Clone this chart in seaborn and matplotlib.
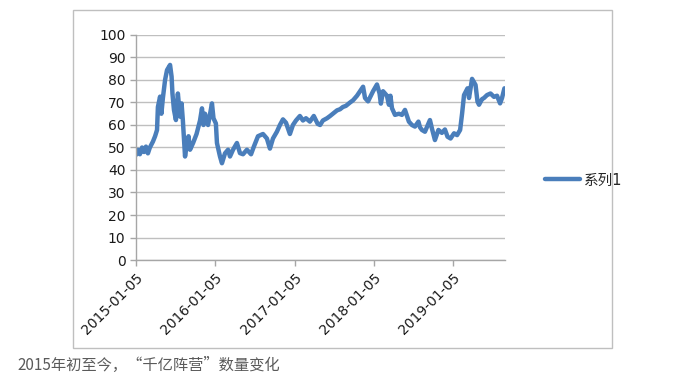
import matplotlib
matplotlib.use('Agg')

import seaborn as sns
import pandas
import matplotlib.pyplot as plt
import matplotlib.dates as mdates
from matplotlib.patches import Rectangle

# values
dates = [
    '2015-01-05', '2015-01-14', '2015-01-23', '2015-02-02', '2015-02-11', '2015-02-20',
    '2015-03-01', '2015-03-10', '2015-03-24', '2015-04-03', '2015-04-12', '2015-04-16',
    '2015-04-26', '2015-05-02', '2015-05-09', '2015-05-19', '2015-05-28', '2015-06-11',
    '2015-06-18', '2015-06-22', '2015-06-29', '2015-07-08', '2015-07-17', '2015-07-27',
    '2015-08-03', '2015-08-09', '2015-08-19', '2015-08-28', '2015-09-04', '2015-09-11',
    '2015-09-25', '2015-10-11', '2015-10-27', '2015-11-05', '2015-11-12', '2015-11-19',
    '2015-12-03', '2015-12-21', '2015-12-28', '2016-01-08', '2016-01-13', '2016-01-27',
    '2016-02-05', '2016-02-19', '2016-03-04', '2016-03-13', '2016-03-27', '2016-04-14',
    '2016-04-28', '2016-05-12', '2016-05-30', '2016-06-18', '2016-07-01', '2016-07-20',
    '2016-08-12', '2016-08-30', '2016-09-13', '2016-09-27', '2016-10-15', '2016-10-29',
    '2016-11-12', '2016-11-26', '2016-12-14', '2016-12-28', '2017-01-11', '2017-01-29',
    '2017-02-12', '2017-02-26', '2017-03-16', '2017-04-03', '2017-04-21', '2017-05-02',
    '2017-05-15', '2017-06-03', '2017-06-17', '2017-06-30', '2017-07-19', '2017-08-02',
    '2017-08-15', '2017-08-29', '2017-09-17', '2017-10-01', '2017-10-19', '2017-11-02',
    '2017-11-16', '2017-11-25', '2017-12-09', '2018-01-01', '2018-01-19', '2018-01-31',
    '2018-02-06', '2018-02-16', '2018-03-06', '2018-03-15', '2018-03-22', '2018-03-29',
    '2018-04-12', '2018-04-30', '2018-05-14', '2018-05-28', '2018-06-15', '2018-06-29',
    '2018-07-13', '2018-07-29', '2018-08-05', '2018-08-14', '2018-08-28', '2018-09-20',
    '2018-09-29', '2018-10-13', '2018-10-29', '2018-11-14', '2018-11-28', '2018-12-10',
    '2018-12-24', '2019-01-09', '2019-01-23', '2019-02-06', '2019-02-15', '2019-02-24',
    '2019-03-12', '2019-03-19', '2019-04-02', '2019-04-18', '2019-04-27', '2019-05-04',
    '2019-05-18', '2019-05-27', '2019-06-10', '2019-06-26', '2019-07-12', '2019-07-26',
    '2019-08-09', '2019-08-18', '2019-08-29',
]
values = [
    46.7, 49.0, 47.0, 50.0, 48.0, 50.4,
    47.4, 50.0, 52.6, 55.0, 57.8, 68.0,
    72.6, 65.0, 72.0, 80.0, 84.4, 86.7,
    81.5, 74.0, 66.7, 62.2, 74.0, 63.7,
    69.6, 62.0, 46.0, 52.0, 55.0, 49.0,
    52.0, 56.0, 62.0, 67.4, 60.0, 65.0,
    60.0, 69.6, 63.0, 60.7, 52.0, 46.0,
    43.0, 47.4, 49.0, 46.0, 49.0, 52.0,
    47.5, 47.0, 49.0, 47.0, 50.4, 55.0,
    56.0, 54.0, 49.5, 54.0, 57.0, 60.0,
    62.5, 61.0, 56.0, 60.0, 62.0, 64.0,
    62.0, 63.0, 61.5, 64.0, 60.5, 60.0,
    62.0, 63.0, 64.0, 65.0, 66.5, 67.0,
    68.0, 68.5, 70.0, 71.0, 73.0, 75.0,
    77.0, 72.0, 70.5, 75.0, 78.0, 74.0,
    69.5, 75.0, 73.0, 69.0, 73.0, 67.5,
    64.5, 65.0, 64.5, 66.7, 61.5, 60.0,
    59.3, 61.5, 59.0, 57.8, 57.0, 62.2,
    58.5, 53.3, 57.8, 56.5, 58.0, 54.8,
    54.0, 56.3, 55.5, 57.8, 65.0, 73.3,
    76.3, 72.0, 80.5, 77.8, 70.4, 69.0,
    71.5, 72.0, 73.3, 74.0, 72.5, 73.0,
    69.6, 72.0, 76.3,
]
tick_labels = ['2015-01-05', '2016-01-05', '2017-01-05', '2018-01-05', '2019-01-05']
series_name = '系列1'
caption = '2015年初至今，“千亿阵营”数量变化'

df = pandas.DataFrame({'date': pandas.to_datetime(dates), 'value': values})

sns.set_style('white')
plt.rcParams['font.family'] = ['DejaVu Sans', 'Noto Sans CJK SC']

fig = plt.figure(figsize=(6.85, 3.84), dpi=100)
ax = fig.add_axes([0.1985, 0.3229, 0.5385, 0.586])

sns.lineplot(data=df, x='date', y='value', ax=ax, color='#4a7ebb', linewidth=3.2,
             label=series_name, legend=False)

ax.set_ylim(0, 100)
ax.set_yticks(range(0, 101, 10))
ax.set_xlim(pandas.Timestamp('2015-01-05'), pandas.Timestamp('2019-08-31'))
ax.set_xticks(pandas.to_datetime(tick_labels))
ax.xaxis.set_major_formatter(mdates.DateFormatter('%Y-%m-%d'))
ax.set_xlabel('')
ax.set_ylabel('')

ax.grid(axis='y', color='#bfbfbf', linewidth=1)
ax.set_axisbelow(True)
for side in ['top', 'right']:
    ax.spines[side].set_visible(False)
for side in ['left', 'bottom']:
    ax.spines[side].set_color('#a6a6a6')
    ax.spines[side].set_linewidth(1)

ax.tick_params(axis='both', which='both', length=4, width=1, color='#a6a6a6',
               labelsize=10, labelcolor='#1a1a1a', direction='out',
               left=True, bottom=True)
plt.setp(ax.get_xticklabels(), rotation=45, ha='right', rotation_mode='anchor')

fig.legend(loc='center left', bbox_to_anchor=(0.795, 0.531), frameon=False,
           fontsize=10.5, handlelength=2.4, handletextpad=0.3,
           borderpad=0, borderaxespad=0)

fig.patches.append(Rectangle((0.1066, 0.094), 0.787, 0.880, transform=fig.transFigure,
                             fill=False, edgecolor='#bfbfbf', linewidth=1))

fig.text(0.026, 0.047, caption, fontsize=11, color='#5a5a5a', va='center',
         family=['Noto Sans CJK SC', 'DejaVu Sans'])

plt.savefig('out.png', dpi=100)
plt.close('all')
